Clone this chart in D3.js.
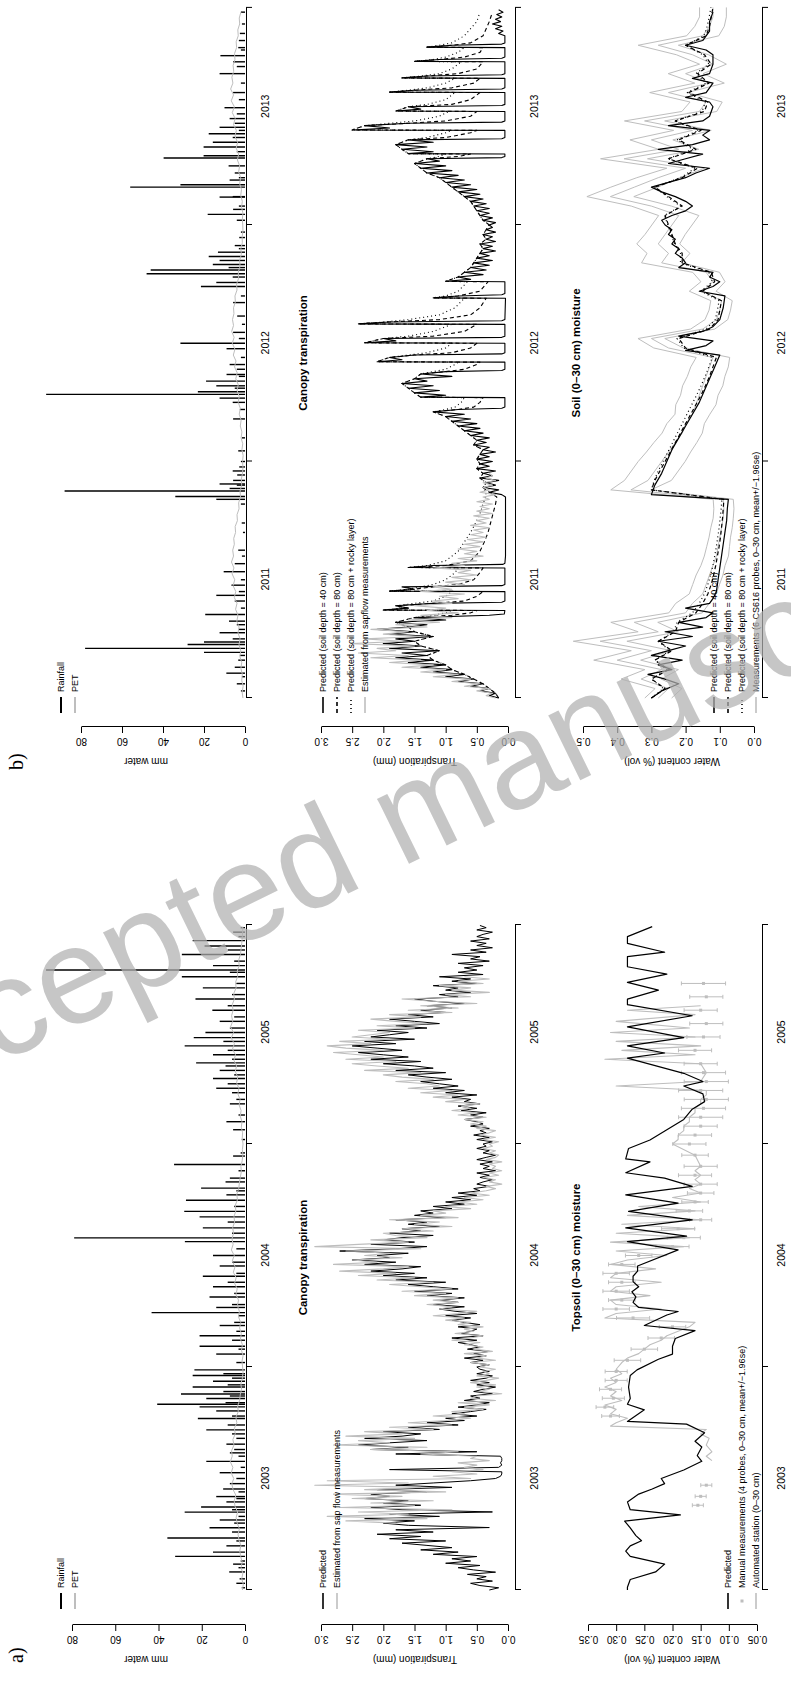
<!DOCTYPE html>
<html>
<head>
<meta charset="utf-8">
<script src="https://cdn.jsdelivr.net/npm/d3@7"></script>
<style>
  html, body { margin: 0; padding: 0; background: #fff; }
  svg text { font-family: "Liberation Sans", Arial, Helvetica, sans-serif; }
  svg text.narrow { font-family: "Liberation Sans Narrow", "Arial Narrow", "Liberation Sans", sans-serif; }
</style>
</head>
<body>
<script>
// ===================== Panel a: 2003-2005 =====================
// time values are in years since 1 January of the first year shown
const yearsA = ["2003", "2004", "2005"];

// daily rainfall events [t, mm]
const rainA = [
  [0.01,1.5],[0.03,4],[0.05,2.5],[0.081,7.3],[0.1,3],[0.116,5.5],[0.13,2],[0.151,32.3],[0.17,14.8],[0.198,8.6],
  [0.22,4],[0.233,35.9],[0.26,6],[0.279,16.4],[0.3,5],[0.314,11.7],[0.33,3],[0.349,27.9],[0.36,6],[0.372,20.3],
  [0.395,8.6],[0.41,4],[0.419,13.3],[0.44,3],[0.453,10.1],[0.477,7],[0.5,4],[0.526,11.7],[0.55,2],[0.577,17.9],
  [0.6,3],[0.615,7],[0.63,5],[0.654,8.6],[0.68,4],[0.7,6],[0.718,17.9],[0.74,8],[0.769,21.8],[0.78,6],
  [0.803,13.3],[0.821,21],[0.833,40.6],[0.84,9],[0.859,17.9],[0.87,7],[0.879,29.6],[0.89,10],[0.91,24.2],[0.92,8],
  [0.936,14.8],[0.95,6],[0.962,24.2],[0.97,10],[0.987,23.4],[1.02,4],[1.058,13.3],[1.08,3],[1.093,21],[1.12,6],
  [1.14,21],[1.16,4],[1.186,11.7],[1.2,5],[1.23,3],[1.244,43.2],[1.267,13.3],[1.28,6],[1.314,16.4],[1.33,5],
  [1.36,14.8],[1.38,8],[1.407,19.5],[1.42,4],[1.453,11.7],[1.47,6],[1.5,14.8],[1.53,4],[1.562,27.8],[1.579,79],
  [1.6,6],[1.624,19.5],[1.65,8],[1.673,21],[1.698,28.1],[1.72,5],[1.748,27.3],[1.772,8.6],[1.79,4],[1.802,20.3],
  [1.83,9],[1.847,7],[1.88,3],[1.908,32.8],[1.946,5.5],[1.96,2],[2.02,1.5],[2.064,5.5],[2.1,8.6],[2.13,3],
  [2.18,7],[2.2,4],[2.23,6],[2.25,13.3],[2.27,8],[2.294,14.8],[2.31,5],[2.33,11.7],[2.35,9],[2.364,22.6],
  [2.38,6],[2.4,14.8],[2.42,8],[2.44,27.9],[2.46,10],[2.477,23.7],[2.5,18.3],[2.52,7],[2.55,11.7],[2.57,5],
  [2.6,15.1],[2.62,8],[2.65,22.9],[2.67,6],[2.7,19.5],[2.72,4],[2.75,29.2],[2.77,7],[2.78,92],[2.8,14.8],
  [2.82,5],[2.85,29.2],[2.87,8],[2.888,18.7],[2.912,24.2],[2.93,3],[2.95,5.5],[2.97,2]
];

// potential evapotranspiration, one value every 1/40 year
const petStep = 1 / 40;
const petA = [
  1.2,0.8,1.5,1.0,1.8,1.3,2.0,2.4,1.9,2.8,3.2,2.6,3.6,4.1,3.4,4.6,5.0,4.2,5.5,6.1,5.2,6.4,5.6,6.8,5.9,6.2,5.1,5.6,4.5,4.9,3.8,4.2,3.1,3.4,2.5,2.2,1.6,1.9,1.2,0.9,
  1.1,1.4,0.9,1.6,1.2,2.1,1.7,2.5,2.0,3.0,2.6,3.5,3.0,4.2,3.6,4.8,4.1,5.4,4.6,5.9,5.0,6.3,5.5,6.0,5.3,5.7,4.8,5.1,4.2,4.5,3.5,3.8,2.9,2.6,2.2,1.7,1.9,1.3,1.0,1.2,
  0.9,1.3,1.1,1.7,1.4,2.2,1.8,2.7,2.3,3.3,2.8,3.9,3.3,4.5,3.9,5.1,4.4,5.8,4.9,6.4,5.3,6.7,5.7,6.2,5.5,5.9,4.9,5.2,4.1,4.4,3.4,3.6,2.7,2.9,2.1,1.8,1.5,1.3,1.1,1.0
];

// canopy transpiration (mm/day), one value every 0.01 year
const canopyStepA = 0.01;
const canopyPredA = [
  0.3,0.15,0.45,0.6,0.25,0.5,0.35,0.65,0.2,0.55,
  0.8,0.45,1.0,0.6,0.9,0.5,1.2,0.8,1.4,0.9,
  1.3,1.7,1.0,1.9,1.4,2.1,1.2,1.8,0.3,1.6,
  2.0,1.5,2.3,1.1,1.9,0.25,1.7,2.2,1.4,2.0,
  1.6,2.3,1.9,2.2,1.3,2.1,0.9,1.8,1.2,0.6,
  0.2,0.12,0.1,0.1,1.9,0.15,0.1,0.12,0.1,0.1,
  0.12,1.8,0.5,2.2,1.6,2.4,1.9,1.3,2.3,1.7,
  1.4,2.0,1.1,1.6,0.8,1.3,0.7,1.0,0.5,0.9,
  0.6,0.35,0.8,0.5,0.3,0.7,0.45,0.6,0.25,0.55,
  0.4,0.2,0.5,0.3,0.6,0.35,0.25,0.5,0.3,0.45,
  0.5,0.3,0.6,0.4,0.7,0.35,0.55,0.3,0.65,0.45,
  0.6,0.8,0.5,0.9,0.4,0.75,0.6,0.5,0.8,0.45,
  0.7,0.9,0.6,1.0,0.5,0.85,1.1,0.7,1.2,0.8,
  1.1,0.7,1.3,0.9,1.5,0.8,1.2,1.6,1.0,1.8,
  1.3,2.0,1.5,2.2,1.7,1.4,2.3,1.8,2.5,1.9,
  2.1,1.6,2.7,1.8,1.3,2.2,1.5,2.0,1.7,1.2,
  1.9,1.4,1.7,1.1,1.6,1.3,1.8,1.0,1.5,1.2,
  1.4,0.9,1.2,0.7,1.0,0.6,0.9,0.5,0.8,0.45,
  0.55,0.3,0.5,0.4,0.25,0.45,0.3,0.5,0.2,0.4,
  0.3,0.45,0.25,0.5,0.35,0.2,0.4,0.3,0.5,0.35,
  0.4,0.25,0.5,0.3,0.55,0.35,0.45,0.3,0.6,0.4,
  0.5,0.7,0.4,0.6,0.35,0.75,0.5,0.8,0.45,0.7,
  0.6,0.9,0.5,1.0,0.7,1.2,0.8,1.1,1.4,0.9,
  1.3,1.6,1.0,1.8,1.2,1.5,2.0,1.4,2.2,1.6,
  2.0,2.4,1.7,2.1,2.5,1.8,2.3,1.5,2.2,1.9,
  1.6,2.1,1.3,1.8,1.1,1.5,1.9,1.2,1.6,1.0,
  1.4,0.9,1.3,0.7,1.2,1.5,0.8,1.1,0.6,1.0,
  0.8,1.2,0.5,0.9,0.6,1.1,0.4,0.8,0.5,0.7,
  0.4,0.8,0.3,0.6,0.45,0.9,0.35,0.6,0.25,0.5,
  0.35,0.6,0.3,0.5,0.4,0.25,0.5,0.35,0.45
];
const canopySapA = [
  null,null,null,null,null,null,null,null,null,null,
  null,null,null,null,null,null,null,null,null,null,
  null,null,null,null,null,null,null,null,null,null,
  1.8,2.6,1.3,2.9,1.6,2.4,0.9,2.7,1.5,2.2,
  1.2,2.5,1.7,2.8,1.0,2.3,1.4,3.1,1.6,2.9,
  0.6,1.2,0.5,0.9,0.4,0.7,0.5,0.8,0.3,0.6,
  0.5,1.4,0.8,2.2,1.3,2.8,1.9,2.4,1.5,2.6,
  1.7,2.3,1.2,1.9,0.9,1.6,1.0,0.6,1.2,0.7,
  0.9,0.4,0.7,0.3,0.8,0.2,0.6,0.5,0.1,0.45,
  0.3,0.5,0.2,0.6,0.35,0.15,0.5,0.3,0.4,0.2,
  0.45,0.3,0.6,0.2,0.5,0.35,0.7,0.25,0.55,0.4,
  0.7,0.45,0.9,0.6,0.4,0.85,0.55,0.7,0.4,0.8,
  0.6,1.0,0.7,1.2,0.8,0.5,1.1,0.9,1.3,0.8,
  1.2,0.8,1.5,1.0,1.7,0.9,1.4,1.9,1.2,2.1,
  1.5,2.4,1.8,2.7,2.0,1.6,2.8,2.1,2.5,1.7,
  2.3,1.9,2.6,1.4,3.1,2.4,1.6,2.2,1.3,1.8,
  2.0,1.2,1.7,0.9,1.5,1.1,1.9,0.8,1.4,1.0,
  1.2,0.6,1.0,0.5,0.8,0.4,0.7,0.3,0.6,0.35,
  0.2,0.35,0.1,0.3,0.2,0.4,0.15,0.3,0.1,0.25,
  0.2,0.3,0.1,0.35,0.2,0.15,0.3,0.2,0.4,0.25,
  0.3,0.15,0.4,0.2,0.45,0.3,0.2,0.5,0.35,0.6,
  0.4,0.7,0.35,0.8,0.5,0.9,0.6,0.75,0.45,1.0,
  0.7,1.2,0.8,1.4,0.9,1.6,1.1,1.3,1.8,1.2,
  1.7,2.0,1.4,2.3,1.6,2.1,2.5,1.8,2.6,2.0,
  2.4,2.8,2.0,2.6,2.9,2.2,2.7,1.9,2.5,2.2,
  1.9,2.4,1.5,2.1,1.3,1.8,2.2,1.4,1.9,0.9,
  1.6,0.8,1.4,0.5,1.2,1.7,0.6,1.0,0.3,0.9,
  0.6,1.1,0.4,0.8,0.3,0.7
];

// topsoil water content, predicted [t, vol. fraction]
const soilPredA = [
  [0.0,0.28],[0.012,0.28],[0.047,0.275],[0.081,0.23],[0.116,0.214],[0.151,0.275],[0.174,0.283],[0.198,0.275],
  [0.221,0.255],[0.244,0.265],[0.279,0.275],[0.309,0.285],[0.337,0.186],[0.36,0.275],[0.395,0.28],[0.43,0.26],
  [0.453,0.236],[0.477,0.214],[0.5,0.22],[0.538,0.18],[0.577,0.148],[0.603,0.156],[0.641,0.148],[0.667,0.16],
  [0.705,0.143],[0.744,0.175],[0.756,0.28],[0.808,0.25],[0.833,0.28],[0.859,0.275],[0.91,0.278],[0.962,0.275],
  [0.987,0.263],[1.035,0.225],[1.058,0.2],[1.093,0.2],[1.128,0.195],[1.163,0.16],[1.186,0.25],[1.233,0.21],
  [1.249,0.19],[1.267,0.26],[1.29,0.27],[1.314,0.265],[1.337,0.272],[1.36,0.26],[1.383,0.27],[1.407,0.27],
  [1.43,0.262],[1.453,0.262],[1.525,0.19],[1.562,0.28],[1.587,0.175],[1.624,0.283],[1.66,0.165],[1.698,0.278],
  [1.735,0.19],[1.772,0.283],[1.81,0.165],[1.847,0.214],[1.871,0.283],[1.92,0.24],[1.933,0.283],[1.98,0.278],
  [2.018,0.24],[2.064,0.21],[2.11,0.18],[2.156,0.165],[2.19,0.143],[2.225,0.146],[2.26,0.18],[2.28,0.146],
  [2.317,0.18],[2.385,0.28],[2.408,0.214],[2.44,0.28],[2.477,0.18],[2.525,0.28],[2.575,0.165],[2.625,0.28],
  [2.65,0.28],[2.69,0.225],[2.725,0.28],[2.762,0.21],[2.795,0.28],[2.84,0.28],[2.86,0.214],[2.9,0.28],
  [2.93,0.28],[2.975,0.236]
];

// automated station (0-30 cm) [t, vol. fraction]
const soilAutoA = [
  [0.58,0.13],[0.6,0.14],[0.62,0.13],[0.65,0.14],[0.68,0.135],[0.7,0.15],[0.72,0.14],[0.735,0.31],[0.75,0.3],[0.77,0.28],
  [0.79,0.31],[0.81,0.3],[0.83,0.32],[0.85,0.29],[0.87,0.31],[0.89,0.3],[0.91,0.32],[0.93,0.3],[0.95,0.31],[0.97,0.29],
  [0.99,0.3],[1.02,0.29],[1.04,0.28],[1.06,0.26],[1.08,0.25],[1.1,0.24],[1.12,0.22],[1.14,0.21],[1.16,0.19],[1.18,0.17],
  [1.2,0.16],[1.22,0.32],[1.24,0.3],[1.26,0.22],[1.28,0.3],[1.3,0.31],[1.32,0.24],[1.34,0.31],[1.36,0.3],[1.38,0.22],
  [1.4,0.31],[1.42,0.3],[1.44,0.23],[1.46,0.31],[1.48,0.28],[1.5,0.21],[1.52,0.3],[1.54,0.18],[1.56,0.31],[1.58,0.17],
  [1.6,0.3],[1.62,0.16],[1.64,0.29],[1.66,0.15],[1.68,0.28],[1.7,0.16],[1.72,0.26],[1.74,0.15],[1.76,0.2],[1.78,0.15],
  [1.8,0.17],[1.82,0.15],[1.84,0.16],[1.86,0.15],[1.88,0.16],[1.9,0.15],[1.95,0.16],[2.0,0.2],[2.02,0.19],[2.04,0.19],
  [2.06,0.18],[2.08,0.18],[2.1,0.17],[2.12,0.17],[2.14,0.16],[2.16,0.16],[2.18,0.15],[2.2,0.15],[2.22,0.14],[2.24,0.14],
  [2.26,0.3],[2.28,0.15],[2.32,0.14],[2.36,0.15],[2.38,0.32],[2.4,0.16],[2.42,0.29],[2.44,0.15],[2.46,0.3],[2.48,0.16],
  [2.5,0.31],[2.52,0.17],[2.55,0.3],[2.58,0.16],[2.6,0.28],[2.62,0.15]
];

// manual probe campaigns [t, mean, se]
const soilManualA = [
  [0.38,0.155,0.005],[0.42,0.15,0.005],[0.47,0.14,0.005],[0.78,0.31,0.008],[0.82,0.32,0.008],[0.86,0.305,0.01],
  [0.9,0.31,0.01],[0.94,0.3,0.01],[0.98,0.3,0.01],[1.03,0.28,0.012],[1.08,0.25,0.012],[1.13,0.22,0.012],
  [1.18,0.2,0.012],[1.22,0.27,0.015],[1.26,0.3,0.012],[1.3,0.29,0.012],[1.34,0.3,0.012],[1.38,0.29,0.012],
  [1.42,0.3,0.012],[1.46,0.29,0.012],[1.5,0.26,0.012],[1.54,0.2,0.015],[1.58,0.18,0.015],[1.62,0.19,0.015],
  [1.66,0.15,0.01],[1.7,0.17,0.012],[1.74,0.16,0.012],[1.78,0.15,0.012],[1.82,0.15,0.015],[1.86,0.16,0.015],
  [1.9,0.15,0.015],[1.95,0.16,0.012],[2.0,0.17,0.015],[2.04,0.16,0.015],[2.08,0.15,0.015],[2.12,0.15,0.02],
  [2.16,0.145,0.02],[2.2,0.14,0.02],[2.24,0.15,0.02],[2.28,0.14,0.02],[2.32,0.145,0.02],[2.36,0.15,0.015],
  [2.42,0.16,0.015],[2.48,0.145,0.015],[2.54,0.14,0.015],[2.6,0.15,0.015],[2.66,0.14,0.015],[2.72,0.145,0.02]
];

// ===================== Panel b: 2011-2013 =====================
const yearsB = ["2011", "2012", "2013"];

const rainB = [
  [0.03,2],[0.06,4],[0.09,1.5],[0.105,9.1],[0.13,5],[0.16,3.3],[0.18,2.5],[0.193,20],[0.21,78],[0.226,28],
  [0.237,20],[0.25,6],[0.276,12.4],[0.29,3],[0.31,4],[0.325,7.8],[0.353,19.4],[0.38,2],[0.41,5],[0.434,14],
  [0.45,3],[0.477,6.6],[0.5,2],[0.534,10.4],[0.568,5],[0.6,1.5],[0.625,3.3],[0.7,1],[0.74,1.6],[0.82,2],
  [0.84,14],[0.852,34],[0.875,88],[0.886,7.5],[0.9,4],[0.905,12.4],[0.92,5.8],[0.943,3.8],[0.96,6],[0.977,2.8],
  [1.0,2],[1.045,3.3],[1.1,1.5],[1.18,5.8],[1.22,2.5],[1.25,6],[1.268,12.4],[1.284,97],[1.295,23],[1.31,5],
  [1.32,14],[1.34,19],[1.36,3],[1.368,9],[1.39,4],[1.41,7.5],[1.44,2],[1.477,9],[1.5,31.5],[1.52,3],
  [1.546,5.8],[1.58,1.5],[1.615,3.8],[1.672,5.8],[1.7,2],[1.74,21.5],[1.757,14],[1.78,6],[1.794,48],[1.81,46],
  [1.82,8],[1.833,15.7],[1.85,12.4],[1.867,17.7],[1.885,13.2],[1.9,3],[1.913,5],[1.947,2.8],[1.97,2],[2.02,4],
  [2.045,18.2],[2.066,5.8],[2.08,3],[2.118,12.4],[2.12,6],[2.16,56],[2.17,31.5],[2.19,7.5],[2.2,3],[2.22,5],
  [2.25,8],[2.283,39.7],[2.293,20.2],[2.31,4],[2.33,20.2],[2.35,15.7],[2.37,6],[2.386,17.7],[2.4,3],[2.413,12.4],
  [2.43,5],[2.45,7.5],[2.47,4],[2.496,10],[2.53,3],[2.56,5.8],[2.6,2],[2.64,12.4],[2.67,4],[2.69,5.8],
  [2.716,12],[2.74,2],[2.75,3.3],[2.78,3],[2.81,2.5],[2.85,1.5],[2.9,2]
];

const petB = [
  1.0,1.4,0.9,1.6,1.3,2.0,1.6,2.5,2.1,2.9,2.4,3.4,2.9,4.0,3.4,4.6,3.9,5.2,4.5,5.8,5.0,6.3,5.4,6.6,5.6,6.0,5.2,5.5,4.6,4.8,3.7,3.9,2.9,3.1,2.2,2.4,1.6,1.8,1.2,1.0,
  1.2,0.9,1.5,1.1,1.9,1.5,2.3,1.9,2.8,2.3,3.3,2.8,3.9,3.3,4.5,3.8,5.1,4.4,5.7,4.9,6.2,5.3,6.5,5.6,6.1,5.4,5.6,4.7,4.9,3.9,4.1,3.1,3.3,2.4,2.6,1.8,2.0,1.3,1.4,1.0,
  1.1,1.3,1.0,1.7,1.3,2.1,1.7,2.6,2.1,3.1,2.6,3.7,3.1,4.3,3.6,4.9,4.2,5.6,4.8,6.2,5.2,6.7,5.6,7.0,5.9,6.4,5.5,5.8,4.9,5.1,4.1,4.3,3.3,3.5,2.6,2.8,2.0
];

// predicted canopy transpiration [t, mm] for three soil set-ups
const canopy40B = [
  [0,0.15],[0.01,0.3],[0.02,0.2],[0.03,0.45],[0.04,0.3],[0.05,0.6],[0.06,0.4],[0.07,0.8],[0.08,0.55],[0.09,1.0],
  [0.1,0.7],[0.11,1.2],[0.12,0.9],[0.13,1.4],[0.14,1.0],[0.15,1.6],[0.16,1.2],[0.17,1.8],[0.18,1.3],[0.19,1.7],
  [0.2,1.1],[0.21,1.9],[0.22,1.4],[0.23,2.0],[0.24,1.5],[0.25,1.8],[0.26,1.2],[0.27,1.9],[0.28,1.5],[0.29,2.1],
  [0.3,1.6],[0.31,1.3],[0.32,1.8],[0.33,1.0],[0.34,1.5],[0.35,0.3],[0.355,0.06],[0.37,0.05],[0.372,2.0],[0.38,1.6],
  [0.39,1.8],[0.4,1.2],[0.405,0.1],[0.41,0.05],[0.45,0.05],[0.452,1.9],[0.46,1.5],[0.47,1.7],[0.475,0.1],[0.48,0.05],
  [0.55,0.05],[0.552,1.6],[0.56,1.2],[0.565,0.08],[0.57,0.05],[0.6,0.04],[0.7,0.04],[0.8,0.04],[0.85,0.04],[0.86,0.1],
  [0.87,0.3],[0.88,0.15],[0.89,0.4],[0.9,0.2],[0.91,0.35],[0.92,0.15],[0.93,0.45],[0.94,0.25],[0.95,0.4],[0.96,0.2],
  [0.97,0.5],[0.98,0.3],[0.99,0.45],
  [1.0,0.25],[1.01,0.5],[1.02,0.3],[1.03,0.45],[1.04,0.2],[1.05,0.4],[1.06,0.3],[1.07,0.55],[1.08,0.35],[1.09,0.5],
  [1.1,0.3],[1.11,0.6],[1.12,0.4],[1.13,0.7],[1.14,0.45],[1.15,0.8],[1.16,0.5],[1.17,0.9],[1.18,0.6],[1.19,1.0],
  [1.2,0.7],[1.21,1.2],[1.22,0.8],[1.225,0.1],[1.23,0.05],[1.27,0.05],[1.272,1.4],[1.28,1.0],[1.29,1.5],[1.3,1.1],
  [1.31,1.6],[1.32,1.2],[1.33,1.7],[1.34,1.3],[1.35,1.5],[1.36,0.9],[1.37,1.4],[1.38,1.0],[1.385,0.1],[1.39,0.05],
  [1.42,0.05],[1.422,2.1],[1.43,1.7],[1.44,1.9],[1.45,1.5],[1.455,0.1],[1.46,0.05],[1.5,0.05],[1.502,2.3],[1.51,1.8],
  [1.52,2.0],[1.525,0.1],[1.53,0.05],[1.58,0.05],[1.582,2.4],[1.59,1.9],[1.595,0.1],[1.6,0.05],[1.69,0.04],[1.692,1.2],
  [1.7,0.8],[1.705,0.1],[1.71,0.05],[1.76,0.05],[1.762,1.0],[1.77,0.6],[1.78,0.8],[1.79,0.4],[1.8,0.7],[1.81,0.35],
  [1.82,0.6],[1.83,0.3],[1.84,0.55],[1.85,0.25],[1.86,0.5],[1.87,0.3],[1.88,0.45],[1.89,0.2],[1.9,0.4],[1.91,0.25],
  [1.92,0.45],[1.93,0.2],[1.94,0.35],[1.95,0.25],[1.96,0.4],[1.97,0.2],[1.98,0.35],[1.99,0.25],
  [2.0,0.3],[2.01,0.2],[2.02,0.4],[2.03,0.25],[2.04,0.45],[2.05,0.3],[2.06,0.5],[2.07,0.3],[2.08,0.55],[2.09,0.35],
  [2.1,0.6],[2.11,0.4],[2.12,0.7],[2.13,0.45],[2.14,0.8],[2.15,0.5],[2.16,0.9],[2.17,0.6],[2.18,1.0],[2.19,0.7],
  [2.2,1.1],[2.21,0.8],[2.22,1.3],[2.23,0.9],[2.24,1.4],[2.25,1.0],[2.26,1.5],[2.27,1.1],[2.28,1.3],[2.285,0.1],
  [2.29,0.05],[2.3,0.05],[2.302,1.6],[2.31,1.2],[2.32,1.7],[2.33,1.3],[2.34,1.8],[2.35,1.2],[2.36,1.6],[2.365,0.1],
  [2.37,0.05],[2.4,0.05],[2.402,2.5],[2.41,1.9],[2.42,2.3],[2.43,1.6],[2.435,0.1],[2.44,0.05],[2.48,0.05],[2.482,1.8],
  [2.49,1.4],[2.5,1.6],[2.505,0.1],[2.51,0.05],[2.56,0.05],[2.562,1.9],[2.57,1.5],[2.575,0.1],[2.58,0.05],[2.62,0.05],
  [2.622,1.7],[2.63,1.3],[2.635,0.1],[2.64,0.05],[2.69,0.05],[2.692,1.5],[2.7,1.1],[2.705,0.1],[2.71,0.05],[2.75,0.05],
  [2.752,1.3],[2.76,0.9],[2.765,0.1],[2.77,0.05],[2.8,0.05],[2.81,0.15],[2.82,0.08],[2.83,0.2],[2.84,0.1],[2.85,0.25],
  [2.86,0.12],[2.87,0.2],[2.88,0.1],[2.89,0.18],[2.9,0.08],[2.91,0.15]
];
const canopy80B = [
  [0,0.15],[0.02,0.2],[0.04,0.3],[0.06,0.4],[0.08,0.55],[0.1,0.7],[0.12,0.9],[0.14,1.0],[0.16,1.2],[0.18,1.3],
  [0.2,1.1],[0.22,1.4],[0.24,1.5],[0.26,1.2],[0.28,1.5],[0.3,1.6],[0.32,1.8],[0.34,1.5],[0.35,0.9],[0.36,0.6],
  [0.37,0.5],[0.372,2.0],[0.38,1.6],[0.39,1.8],[0.4,1.2],[0.41,0.7],[0.43,0.5],[0.45,0.4],[0.452,1.9],[0.46,1.5],
  [0.47,1.2],[0.48,0.8],[0.5,0.55],[0.53,0.45],[0.55,0.4],[0.552,1.6],[0.56,1.0],[0.58,0.6],[0.62,0.45],[0.66,0.38],
  [0.7,0.32],[0.74,0.28],[0.78,0.24],[0.82,0.2],[0.85,0.18],[0.87,0.3],[0.89,0.4],[0.91,0.35],[0.93,0.45],[0.95,0.4],
  [0.97,0.5],[0.99,0.45],[1.01,0.5],[1.03,0.45],[1.05,0.4],[1.07,0.55],[1.09,0.5],[1.11,0.6],[1.13,0.7],[1.15,0.8],
  [1.17,0.9],[1.19,1.0],[1.21,1.2],[1.22,0.8],[1.23,0.55],[1.25,0.45],[1.27,0.4],[1.272,1.4],[1.29,1.5],[1.31,1.6],
  [1.33,1.7],[1.35,1.5],[1.37,1.4],[1.38,1.0],[1.39,0.7],[1.41,0.5],[1.42,0.45],[1.422,2.1],[1.44,1.9],[1.45,1.5],
  [1.46,0.9],[1.48,0.6],[1.5,0.5],[1.502,2.3],[1.52,2.0],[1.53,1.2],[1.55,0.7],[1.58,0.5],[1.582,2.4],[1.59,1.9],
  [1.6,1.1],[1.62,0.6],[1.65,0.45],[1.69,0.35],[1.692,1.2],[1.7,0.8],[1.72,0.45],[1.76,0.32],[1.762,1.0],[1.78,0.8],
  [1.8,0.7],[1.82,0.6],[1.84,0.55],[1.86,0.5],[1.88,0.45],[1.9,0.4],[1.92,0.45],[1.94,0.35],[1.96,0.4],[1.98,0.35],
  [2.0,0.3],[2.02,0.4],[2.04,0.45],[2.06,0.5],[2.08,0.55],[2.1,0.6],[2.12,0.7],[2.14,0.8],[2.16,0.9],[2.18,1.0],
  [2.2,1.1],[2.22,1.3],[2.24,1.4],[2.26,1.5],[2.28,1.3],[2.29,0.8],[2.3,0.6],[2.302,1.6],[2.32,1.7],[2.34,1.8],
  [2.36,1.6],[2.37,1.0],[2.39,0.6],[2.4,0.5],[2.402,2.5],[2.42,2.3],[2.43,1.6],[2.44,1.0],[2.46,0.6],[2.48,0.5],
  [2.482,1.8],[2.5,1.6],[2.51,0.9],[2.53,0.6],[2.56,0.45],[2.562,1.9],[2.57,1.5],[2.58,0.9],[2.6,0.55],[2.62,0.45],
  [2.622,1.7],[2.63,1.3],[2.64,0.8],[2.66,0.5],[2.69,0.4],[2.692,1.5],[2.7,1.1],[2.71,0.7],[2.73,0.45],[2.75,0.4],
  [2.752,1.3],[2.76,0.9],[2.77,0.6],[2.8,0.4],[2.83,0.35],[2.86,0.3],[2.9,0.25]
];
const canopyRockB = [
  [0,0.15],[0.02,0.2],[0.04,0.3],[0.06,0.4],[0.08,0.55],[0.1,0.7],[0.12,0.9],[0.14,1.0],[0.16,1.2],[0.18,1.3],
  [0.2,1.1],[0.22,1.4],[0.24,1.5],[0.26,1.2],[0.28,1.5],[0.3,1.6],[0.32,1.8],[0.34,1.5],[0.35,1.2],[0.36,1.0],
  [0.37,0.9],[0.372,2.0],[0.38,1.7],[0.39,1.8],[0.4,1.5],[0.41,1.2],[0.43,1.0],[0.45,0.9],[0.452,1.9],[0.46,1.6],
  [0.47,1.4],[0.48,1.2],[0.5,1.0],[0.53,0.85],[0.55,0.8],[0.552,1.6],[0.56,1.3],[0.58,1.0],[0.62,0.8],[0.66,0.7],
  [0.7,0.6],[0.74,0.52],[0.78,0.45],[0.82,0.4],[0.85,0.36],[0.87,0.35],[0.89,0.4],[0.91,0.35],[0.93,0.45],[0.95,0.4],
  [0.97,0.5],[0.99,0.45],[1.01,0.5],[1.03,0.45],[1.05,0.4],[1.07,0.55],[1.09,0.5],[1.11,0.6],[1.13,0.7],[1.15,0.8],
  [1.17,0.9],[1.19,1.0],[1.21,1.2],[1.22,1.0],[1.23,0.85],[1.25,0.75],[1.27,0.7],[1.272,1.4],[1.29,1.5],[1.31,1.6],
  [1.33,1.7],[1.35,1.5],[1.37,1.4],[1.38,1.2],[1.39,1.0],[1.41,0.85],[1.42,0.8],[1.422,2.1],[1.44,1.9],[1.45,1.6],
  [1.46,1.3],[1.48,1.0],[1.5,0.9],[1.502,2.3],[1.52,2.0],[1.53,1.6],[1.55,1.2],[1.58,0.9],[1.582,2.4],[1.59,2.0],
  [1.6,1.6],[1.62,1.1],[1.65,0.85],[1.69,0.7],[1.692,1.2],[1.7,1.0],[1.72,0.8],[1.76,0.65],[1.762,1.0],[1.78,0.8],
  [1.8,0.7],[1.82,0.6],[1.84,0.55],[1.86,0.5],[1.88,0.45],[1.9,0.4],[1.92,0.45],[1.94,0.35],[1.96,0.4],[1.98,0.35],
  [2.0,0.3],[2.02,0.4],[2.04,0.45],[2.06,0.5],[2.08,0.55],[2.1,0.6],[2.12,0.7],[2.14,0.8],[2.16,0.9],[2.18,1.0],
  [2.2,1.1],[2.22,1.3],[2.24,1.4],[2.26,1.5],[2.28,1.3],[2.29,1.1],[2.3,1.0],[2.302,1.6],[2.32,1.7],[2.34,1.8],
  [2.36,1.6],[2.37,1.3],[2.39,1.0],[2.4,0.9],[2.402,2.5],[2.42,2.3],[2.43,1.9],[2.44,1.5],[2.46,1.1],[2.48,0.95],
  [2.482,1.8],[2.5,1.6],[2.51,1.3],[2.53,1.0],[2.56,0.85],[2.562,1.9],[2.57,1.6],[2.58,1.3],[2.6,1.0],[2.62,0.85],
  [2.622,1.7],[2.63,1.4],[2.64,1.1],[2.66,0.9],[2.69,0.75],[2.692,1.5],[2.7,1.2],[2.71,1.0],[2.73,0.8],[2.75,0.7],
  [2.752,1.3],[2.76,1.1],[2.77,0.9],[2.8,0.7],[2.83,0.6],[2.86,0.5],[2.9,0.45]
];
// sap-flow estimate, one value every 0.01 year
const canopyStepB = 0.01;
const canopySapB = [
  0.2,0.35,0.25,0.5,0.3,0.7,0.45,0.9,0.6,1.2,
  0.8,1.4,1.0,1.7,1.2,1.9,1.4,2.2,1.6,2.4,
  1.8,2.1,1.5,2.5,1.7,2.3,1.4,2.0,1.6,2.2,
  1.3,1.8,1.1,1.6,0.9,1.4,0.8,1.3,1.0,1.5,
  0.9,1.2,0.8,1.1,0.7,1.4,0.9,1.2,0.7,1.0,
  0.6,0.9,0.5,0.8,0.6,1.2,0.7,0.9,0.5,0.8,
  0.4,0.7,0.5,0.8,0.45,0.7,0.4,0.65,0.35,0.6,
  0.4,0.55,0.3,0.6,0.35,0.5,0.3,0.55,0.25,0.5,
  0.3,0.45,0.25,0.5,0.3,0.4,0.2,0.45,0.3,0.4,
  0.25,0.4,0.2,0.35,0.25,0.3
];

// soil (0-30 cm) water content, predicted with 40 cm soil depth [t, vol. fraction]
const soil40B = [
  [0,0.3],[0.03,0.27],[0.06,0.22],[0.08,0.26],[0.1,0.31],[0.12,0.24],[0.14,0.28],[0.16,0.21],[0.18,0.3],[0.2,0.25],
  [0.22,0.2],[0.24,0.28],[0.26,0.18],[0.28,0.26],[0.3,0.15],[0.32,0.22],[0.34,0.14],[0.36,0.12],[0.38,0.2],[0.4,0.13],
  [0.42,0.12],[0.45,0.11],[0.5,0.105],[0.55,0.1],[0.6,0.095],[0.65,0.09],[0.7,0.085],[0.75,0.08],[0.8,0.078],[0.84,0.075],
  [0.86,0.3],[0.9,0.29],[0.95,0.27],[1.0,0.255],[1.05,0.24],[1.1,0.22],[1.15,0.2],[1.2,0.18],[1.25,0.16],[1.3,0.145],
  [1.35,0.13],[1.4,0.115],[1.45,0.1],[1.47,0.2],[1.49,0.14],[1.51,0.12],[1.53,0.22],[1.55,0.15],[1.57,0.12],[1.6,0.1],
  [1.65,0.09],[1.7,0.085],[1.72,0.16],
  [1.74,0.12],[1.76,0.1],[1.78,0.13],[1.8,0.12],[1.82,0.22],[1.84,0.2],[1.86,0.21],[1.88,0.23],[1.9,0.22],[1.92,0.24],
  [1.94,0.23],[1.96,0.25],[1.98,0.24],[2.0,0.26],[2.02,0.27],[2.04,0.24],[2.06,0.2],[2.08,0.18],[2.1,0.2],[2.12,0.23],
  [2.14,0.27],[2.16,0.3],[2.18,0.25],[2.2,0.2],[2.22,0.17],[2.24,0.13],[2.26,0.25],[2.28,0.2],[2.3,0.15],[2.32,0.28],
  [2.34,0.18],[2.36,0.13],[2.38,0.15],[2.4,0.13],[2.42,0.25],[2.44,0.15],[2.46,0.13],[2.5,0.12],[2.52,0.13],[2.54,0.2],
  [2.56,0.14],[2.6,0.12],[2.62,0.18],[2.64,0.13],[2.68,0.12],[2.72,0.12],[2.74,0.14],[2.76,0.2],[2.78,0.15],[2.82,0.13],
  [2.86,0.13],[2.9,0.12]
];
// one value every 0.04 year
const soilStepB = 0.04;
const soil80B = [
  0.3,0.26,0.3,0.25,0.29,0.24,0.28,0.23,0.22,0.17,0.15,0.135,0.125,0.118,0.112,0.107,0.102,0.098,0.095,0.092,
  0.09,0.088,0.3,0.29,0.275,0.26,0.245,0.23,0.215,0.2,0.185,0.17,0.155,0.142,0.13,0.12,0.11,0.2,0.22,0.13,
  0.105,0.1,0.095,0.15,0.115,0.125,0.21,0.21,0.23,0.24,0.25,0.26,0.21,0.25,0.29,0.21,0.165,0.25,0.17,0.22,
  0.155,0.23,0.145,0.135,0.19,0.132,0.165,0.125,0.145,0.2,0.14,0.13,0.125,0.12
];
const soilRockB = [
  0.3,0.265,0.3,0.255,0.29,0.245,0.28,0.235,0.225,0.18,0.16,0.145,0.135,0.127,0.12,0.115,0.11,0.106,0.102,0.099,
  0.096,0.094,0.3,0.292,0.28,0.266,0.252,0.238,0.224,0.21,0.196,0.182,0.168,0.155,0.143,0.132,0.122,0.205,0.225,0.14,
  0.113,0.107,0.102,0.155,0.122,0.132,0.215,0.215,0.232,0.242,0.252,0.262,0.215,0.255,0.29,0.215,0.172,0.252,0.178,0.225,
  0.162,0.232,0.152,0.142,0.195,0.14,0.17,0.132,0.15,0.2,0.146,0.137,0.131,0.126
];
// CS616 probe network: mean and standard error
const soilMeasMeanB = [
  0.28,0.25,0.33,0.27,0.4,0.3,0.45,0.28,0.35,0.2,0.18,0.15,0.14,0.13,0.12,0.11,0.105,0.1,0.095,0.09,
  0.088,0.09,0.36,0.31,0.29,0.27,0.25,0.23,0.21,0.2,0.18,0.17,0.16,0.15,0.14,0.13,0.12,0.25,0.3,0.15,
  0.11,0.1,0.095,0.15,0.12,0.14,0.27,0.25,0.28,0.26,0.24,0.22,0.3,0.42,0.35,0.28,0.2,0.38,0.22,0.3,
  0.18,0.32,0.16,0.14,0.25,0.13,0.2,0.12,0.18,0.28,0.15,0.13,0.12,0.12
];
const soilMeasSeB = [
  0.02,0.02,0.03,0.025,0.035,0.03,0.04,0.03,0.035,0.025,0.025,0.02,0.02,0.02,0.018,0.018,0.017,0.016,0.016,0.015,
  0.015,0.015,0.03,0.035,0.035,0.035,0.033,0.032,0.03,0.028,0.026,0.03,0.028,0.03,0.028,0.028,0.025,0.022,0.02,0.018,
  0.017,0.016,0.016,0.02,0.018,0.02,0.03,0.032,0.032,0.03,0.03,0.03,0.03,0.035,0.035,0.032,0.028,0.035,0.03,0.032,
  0.028,0.03,0.026,0.024,0.028,0.022,0.026,0.02,0.024,0.03,0.024,0.022,0.02,0.02
];

// axis ticks
const rainTicks = [0, 20, 40, 60, 80];
const canopyTicks = [0, 0.5, 1, 1.5, 2, 2.5, 3];
const soilTicksA = [0.05, 0.10, 0.15, 0.20, 0.25, 0.30, 0.35];
const soilTicksB = [0, 0.1, 0.2, 0.3, 0.4, 0.5];

// ===================== drawing =====================
const GREY = "#bebebe";
const W = 791, H = 1681;

const svg = d3.select("body").append("svg")
  .attr("width", W).attr("height", H)
  .style("display", "block").style("background", "#fff");

// the figure is laid out in landscape and turned a quarter turn
const root = svg.append("g").attr("transform", `translate(0,${H}) rotate(-90)`);

const stepSeries = (vals, step) => vals.map((v, i) => [i * step, v]);

function rotText(g, x, y, txt, size, cls) {
  return g.append("text")
    .attr("transform", `translate(${x},${y}) rotate(-90)`)
    .attr("text-anchor", "middle")
    .attr("class", cls || null)
    .style("font-size", size + "px")
    .text(txt);
}

function timeAxis(g, x, tEnd, axisY, years) {
  const xa = d3.scaleLinear().domain([0, tEnd]).range([x(0), x(tEnd)]);
  const ax = g.append("g").attr("transform", `translate(0,${axisY})`)
    .call(d3.axisBottom(xa).tickValues([0, 1, 2, tEnd]).tickFormat("").tickSize(6).tickSizeOuter(0));
  ax.select(".domain").attr("stroke-width", 1);
  const lab = g.append("g").attr("transform", `translate(0,${axisY})`)
    .call(d3.axisBottom(x).tickValues([0.5, 1.5, 2.5]).tickFormat((d, i) => years[i]).tickSize(0));
  lab.select(".domain").remove();
  lab.selectAll("text").attr("y", 19).attr("dy", "0.35em").style("font-size", "10.5px")
    .style("font-family", '"Liberation Sans", Arial, sans-serif');
}

function valueAxis(g, y, ticks, fmt, axisX, title, titleCenter) {
  const ya = d3.scaleLinear().domain([ticks[0], ticks[ticks.length - 1]])
    .range([y(ticks[0]), y(ticks[ticks.length - 1])]);
  const ax = g.append("g").attr("transform", `translate(${axisX},0)`)
    .call(d3.axisLeft(ya).tickValues(ticks).tickFormat(d3.format(fmt)).tickSize(6).tickSizeOuter(0));
  ax.selectAll("text")
    .attr("x", null).attr("dy", null)
    .attr("text-anchor", "middle")
    .attr("transform", "translate(-11,0) rotate(-90)")
    .style("font-size", "10px")
    .style("font-family", '"Liberation Sans", Arial, sans-serif');
  rotText(g, axisX - 31, titleCenter, title, 10);
}

function legend(g, lx, ys, items) {
  items.forEach((it, i) => {
    const y = ys[i];
    if (it.kind === "point") {
      g.append("rect").attr("x", lx + 6.5).attr("y", y - 1.5).attr("width", 3).attr("height", 3).attr("fill", it.color);
    } else {
      g.append("line").attr("x1", lx).attr("x2", lx + 16).attr("y1", y).attr("y2", y)
        .attr("stroke", it.color).attr("stroke-width", it.width || 1.6)
        .attr("stroke-dasharray", it.dash || null);
    }
    g.append("text").attr("x", lx + 21).attr("y", y).attr("dy", "0.35em")
      .attr("class", "narrow").style("font-size", "9px").text(it.label);
  });
}

function drawLine(g, data, x, y, color, width, dash) {
  const line = d3.line().defined(d => d[1] != null).x(d => x(d[0])).y(d => y(d[1]));
  g.append("path").datum(data).attr("d", line).attr("fill", "none")
    .attr("stroke", color).attr("stroke-width", width)
    .attr("stroke-linejoin", "round").attr("stroke-dasharray", dash || null);
}

function drawRain(g, data, x, y) {
  g.append("g").selectAll("line").data(data).join("line")
    .attr("x1", d => x(d[0])).attr("x2", d => x(d[0]))
    .attr("y1", y(0)).attr("y2", d => y(d[1]))
    .attr("stroke", "#000").attr("stroke-width", 1.4);
}

// ---- layout of each half of the figure ----
const layout = {
  a: { t0: 91, perYear: 223, tEnd: 2.982, vAxisX: 56, legendX: 72, tag: "a)", tagX: 18,
       rainTop: 72, soilRange: [757, 588] },
  b: { t0: 983, perYear: 236.5, tEnd: 2.918, vAxisX: 954, legendX: 968, tag: "b)", tagX: 911,
       rainTop: 81, soilRange: [754, 583] }
};
const rows = { rainAxis: 246, canopyAxis: 515, soilAxis: 762 };

function panel(key, d) {
  const P = layout[key];
  const g = root.append("g");
  const x = d3.scaleLinear().domain([0, 3]).range([P.t0, P.t0 + 3 * P.perYear]);

  // --- rainfall & PET ---
  const yRain = d3.scaleLinear().domain([0, 80]).range([245, P.rainTop]);
  drawRain(g, d.rain, x, yRain);
  drawLine(g, stepSeries(d.pet, petStep), x, yRain, GREY, 1);
  timeAxis(g, x, P.tEnd, rows.rainAxis, d.years);
  valueAxis(g, yRain, rainTicks, "d", P.vAxisX, "mm water", 146);
  legend(g, P.legendX, [61, 75], [
    { label: "Rainfall", color: "#000", width: 2 },
    { label: "PET", color: GREY, width: 2 }
  ]);

  // --- canopy transpiration ---
  const yCan = d3.scaleLinear().domain([0, 3]).range([508, 321]);
  d.canopy.forEach(s => drawLine(g, s.data, x, yCan, s.color, s.width, s.dash));
  timeAxis(g, x, P.tEnd, rows.canopyAxis, d.years);
  valueAxis(g, yCan, canopyTicks, ".1f", P.vAxisX, "Transpiration (mm)", 415);
  g.append("text").attr("x", (x(0) + x(P.tEnd)) / 2).attr("y", 303).attr("dy", "0.35em")
    .attr("text-anchor", "middle").style("font-size", "11.5px").style("font-weight", "bold")
    .text("Canopy transpiration");
  legend(g, P.legendX, [323, 337, 351, 365].slice(0, d.canopy.length),
    d.canopy.map(s => ({ label: s.label, color: s.color, dash: s.dash, width: 1.6 })));

  // --- soil moisture ---
  const ySoil = d3.scaleLinear().domain(d.soilDomain).range(P.soilRange);
  d.soilDraw(g, x, ySoil);
  timeAxis(g, x, P.tEnd, rows.soilAxis, d.years);
  valueAxis(g, ySoil, d.soilTicks, d.soilFmt, P.vAxisX, "Water content (% vol)", 672);
  g.append("text").attr("x", (x(0) + x(P.tEnd)) / 2).attr("y", 576).attr("dy", "0.35em")
    .attr("text-anchor", "middle").style("font-size", "11.5px").style("font-weight", "bold")
    .text(d.soilTitle);
  legend(g, P.legendX, d.soilLegendY, d.soilLegend);

  // panel tag
  g.append("text").attr("x", P.tagX).attr("y", 16).attr("dy", "0.35em")
    .style("font-family", '"Liberation Serif", "Times New Roman", serif').style("font-size", "20px")
    .text(P.tag);
}

panel("a", {
  years: yearsA, rain: rainA, pet: petA,
  canopy: [
    { label: "Predicted", data: stepSeries(canopyPredA, canopyStepA), color: "#000", width: 1 },
    { label: "Estimated from sap flow measurements", data: stepSeries(canopySapA, canopyStepA), color: GREY, width: 1.1 }
  ],
  soilDomain: [0.05, 0.35], soilTicks: soilTicksA, soilFmt: ".2f",
  soilTitle: "Topsoil (0\u201330 cm) moisture",
  soilDraw: (g, x, y) => {
    drawLine(g, soilAutoA, x, y, GREY, 1.1);
    const m = g.append("g");
    soilManualA.forEach(([t, mu, se]) => {
      const lo = y(mu - 1.96 * se), hi = y(mu + 1.96 * se);
      m.append("line").attr("x1", x(t)).attr("x2", x(t)).attr("y1", lo).attr("y2", hi).attr("stroke", GREY).attr("stroke-width", 1);
      m.append("line").attr("x1", x(t) - 2).attr("x2", x(t) + 2).attr("y1", lo).attr("y2", lo).attr("stroke", GREY).attr("stroke-width", 1);
      m.append("line").attr("x1", x(t) - 2).attr("x2", x(t) + 2).attr("y1", hi).attr("y2", hi).attr("stroke", GREY).attr("stroke-width", 1);
      m.append("rect").attr("x", x(t) - 1.5).attr("y", y(mu) - 1.5).attr("width", 3).attr("height", 3).attr("fill", GREY);
    });
    drawLine(g, soilPredA, x, y, "#000", 1.2);
  },
  soilLegendY: [728, 742, 756],
  soilLegend: [
    { label: "Predicted", color: "#000" },
    { label: "Manual measurements (4 probes, 0\u201330 cm, mean+/\u22121.96se)", color: GREY, kind: "point" },
    { label: "Automated station (0\u201330 cm)", color: GREY }
  ]
});

panel("b", {
  years: yearsB, rain: rainB, pet: petB,
  canopy: [
    { label: "Predicted (soil depth = 40 cm)", data: canopy40B, color: "#000", width: 1.1 },
    { label: "Predicted (soil depth = 80 cm)", data: canopy80B, color: "#000", width: 1.1, dash: "4,3" },
    { label: "Predicted (soil depth = 80 cm + rocky layer)", data: canopyRockB, color: "#000", width: 1.1, dash: "1,3" },
    { label: "Estimated from sapflow measurements", data: stepSeries(canopySapB, canopyStepB), color: GREY, width: 1.1 }
  ],
  soilDomain: [0, 0.5], soilTicks: soilTicksB, soilFmt: ".1f",
  soilTitle: "Soil (0\u201330 cm) moisture",
  soilDraw: (g, x, y) => {
    const mean = stepSeries(soilMeasMeanB, soilStepB);
    const upper = mean.map(([t, v], i) => [t, v + 1.96 * soilMeasSeB[i]]);
    const lower = mean.map(([t, v], i) => [t, v - 1.96 * soilMeasSeB[i]]);
    [upper, lower, mean].forEach(s => drawLine(g, s, x, y, GREY, 1));
    drawLine(g, stepSeries(soilRockB, soilStepB), x, y, "#000", 1.2, "1,3");
    drawLine(g, stepSeries(soil80B, soilStepB), x, y, "#000", 1.2, "4,3");
    drawLine(g, soil40B, x, y, "#000", 1.2);
  },
  soilLegendY: [714, 728, 742, 756],
  soilLegend: [
    { label: "Predicted (soil depth = 40 cm)", color: "#000" },
    { label: "Predicted (soil depth = 80 cm)", color: "#000", dash: "4,3" },
    { label: "Predicted (soil depth = 80 cm + rocky layer)", color: "#000", dash: "1,3" },
    { label: "Measurements (6 CS616 probes, 0\u201330 cm, mean+/\u22121.96se)", color: GREY }
  ]
});

// "Accepted manuscript" stamp across the page
svg.append("text")
  .attr("transform", "translate(-147,1135) rotate(-26)")
  .style("font-family", '"Liberation Sans", Arial, sans-serif')
  .style("font-size", "137px")
  .attr("fill", "#b0b0b0").attr("fill-opacity", 0.72)
  .text("Accepted manuscript");
</script>
</body>
</html>
